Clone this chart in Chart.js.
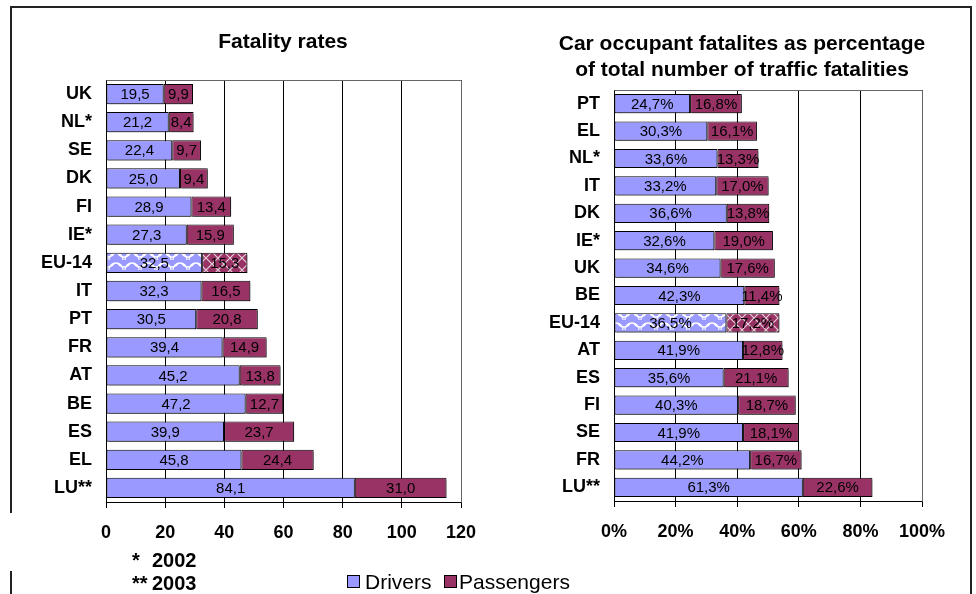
<!DOCTYPE html>
<html>
<head>
<meta charset="utf-8">
<script src="https://cdn.jsdelivr.net/npm/chart.js@4/dist/chart.umd.min.js"></script>
<style>
html,body{margin:0;padding:0;background:#fff;}
#wrap{position:relative;width:976px;height:594px;overflow:hidden;background:#fff;font-family:"Liberation Sans",Arial,sans-serif;color:#000;}
canvas{position:absolute;top:0;}
.ln{position:absolute;background:#222;}
.fn{position:absolute;font-weight:bold;font-size:20px;line-height:22px;white-space:nowrap;}
.lg{position:absolute;top:570px;font-size:21px;line-height:24px;white-space:nowrap;}
.box{position:absolute;width:11px;height:11px;border:1px solid #000;}
</style>
</head>
<body>
<div id="wrap">
  <div class="ln" style="left:10px;top:6px;width:962px;height:2px;"></div>
  <div class="ln" style="left:10px;top:6px;width:2px;height:507px;"></div>
  <div class="ln" style="left:10px;top:571px;width:2px;height:23px;"></div>
  <div class="ln" style="left:970px;top:6px;width:2px;height:588px;"></div>
  <canvas id="c1" width="526" height="594" style="left:20px;"></canvas>
  <canvas id="c2" width="444" height="594" style="left:520px;"></canvas>
  <div id="fm1" class="fn" style="left:132px;top:549px;"></div>
  <div id="fy1" class="fn" style="left:152px;top:549px;"></div>
  <div id="fm2" class="fn" style="left:132px;top:572px;"></div>
  <div id="fy2" class="fn" style="left:152px;top:572px;"></div>
  <div class="box" style="left:347px;top:575px;background:#9999FF;"></div>
  <div id="lg1" class="lg" style="left:365px;"></div>
  <div class="box" style="left:444px;top:575px;background:#993366;"></div>
  <div id="lg2" class="lg" style="left:459px;"></div>
</div>
<script>
// ---- data ----
const fatalCategories = ['UK','NL*','SE','DK','FI','IE*','EU-14','IT','PT','FR','AT','BE','ES','EL','LU**'];
const fatalDrivers    = [19.5,21.2,22.4,25.0,28.9,27.3,32.5,32.3,30.5,39.4,45.2,47.2,39.9,45.8,84.1];
const fatalPassengers = [9.9,8.4,9.7,9.4,13.4,15.9,15.3,16.5,20.8,14.9,13.8,12.7,23.7,24.4,31.0];

const shareCategories = ['PT','EL','NL*','IT','DK','IE*','UK','BE','EU-14','AT','ES','FI','SE','FR','LU**'];
const shareDrivers    = [24.7,30.3,33.6,33.2,36.6,32.6,34.6,42.3,36.5,41.9,35.6,40.3,41.9,44.2,61.3];
const sharePassengers = [16.8,16.1,13.3,17.0,13.8,19.0,17.6,11.4,17.2,12.8,21.1,18.7,18.1,16.7,22.6];

const seriesNames = ['Drivers','Passengers'];
const titleLeft  = ['Fatality rates'];
const titleRight = ['Car occupant fatalites as percentage','of total number of traffic fatalities'];
const footnoteMarks = ['*','**'];
const footnoteYears = ['2002','2003'];
const highlightCategory = 'EU-14';

// ---- text ----
document.getElementById('fm1').textContent = footnoteMarks[0];
document.getElementById('fy1').textContent = footnoteYears[0];
document.getElementById('fm2').textContent = footnoteMarks[1];
document.getElementById('fy2').textContent = footnoteYears[1];
document.getElementById('lg1').textContent = seriesNames[0];
document.getElementById('lg2').textContent = seriesNames[1];

const FONT = '"Liberation Sans", Arial, sans-serif';
const BLUE = '#9999FF', PURPLE = '#993366';

function scallopPattern(){
  const c = document.createElement('canvas'); c.width = 16; c.height = 10;
  const g = c.getContext('2d');
  g.fillStyle = BLUE; g.fillRect(0,0,16,10);
  g.strokeStyle = '#ffffff'; g.lineWidth = 1.3;
  g.beginPath(); g.arc(8,0,7,0.15*Math.PI,0.85*Math.PI); g.stroke();
  g.beginPath(); g.arc(0,10,7,1.5*Math.PI,2.0*Math.PI); g.stroke();
  g.beginPath(); g.arc(16,10,7,1.0*Math.PI,1.5*Math.PI); g.stroke();
  return g.createPattern(c,'repeat');
}
function crossPattern(){
  const c = document.createElement('canvas'); c.width = 12; c.height = 12;
  const g = c.getContext('2d');
  g.fillStyle = PURPLE; g.fillRect(0,0,12,12);
  g.strokeStyle = '#e8d0dc'; g.lineWidth = 1.2;
  g.beginPath(); g.moveTo(0,0); g.lineTo(12,12); g.moveTo(12,0); g.lineTo(0,12); g.stroke();
  return g.createPattern(c,'repeat');
}
const patBlue = scallopPattern();
const patPurple = crossPattern();

const fmt = (v, suffix) => v.toFixed(1).replace('.', ',') + suffix;

function labelPlugin(suffix){
  return {
    id: 'segLabels',
    afterDatasetsDraw(chart){
      const ctx = chart.ctx;
      ctx.save();
      ctx.shadowColor = 'rgba(0,0,0,0)';
      ctx.font = '15px ' + FONT;
      ctx.fillStyle = '#000';
      ctx.textAlign = 'center';
      ctx.textBaseline = 'middle';
      chart.data.datasets.forEach((ds, di) => {
        const meta = chart.getDatasetMeta(di);
        meta.data.forEach((bar, i) => {
          const p = bar.getProps(['x','y','base'], true);
          ctx.fillText(fmt(ds.data[i], suffix), (p.x + p.base) / 2, p.y + 1);
        });
      });
      ctx.restore();
    }
  };
}
function titlePlugin(lines, cx, ys){
  return {
    id: 'fixedTitle',
    afterDraw(chart){
      const ctx = chart.ctx;
      ctx.save();
      ctx.font = 'bold 21px ' + FONT;
      ctx.fillStyle = '#000';
      ctx.textAlign = 'center';
      ctx.textBaseline = 'middle';
      lines.forEach((t, i) => ctx.fillText(t, cx, ys[i]));
      ctx.restore();
    }
  };
}
const framePlugin = {
  id: 'frame',
  beforeDatasetsDraw(chart){
    const a = chart.chartArea, ctx = chart.ctx;
    ctx.save();
    ctx.strokeStyle = '#666'; ctx.lineWidth = 1;
    ctx.beginPath();
    ctx.moveTo(Math.round(a.left)+0.5, Math.round(a.top)+0.5);
    ctx.lineTo(Math.round(a.right)+0.5, Math.round(a.top)+0.5);
    ctx.lineTo(Math.round(a.right)+0.5, Math.round(a.bottom)+0.5);
    ctx.stroke();
    ctx.restore();
    ctx.save();
    ctx.shadowColor = 'rgba(0,0,0,0.35)';
    ctx.shadowOffsetX = 2; ctx.shadowOffsetY = 2; ctx.shadowBlur = 0;
  },
  afterDatasetsDraw(chart){ chart.ctx.restore(); }
};

function makeChart(id, cats, drv, pas, cfg){
  const ds = (name, data, color, pat) => ({
    label: name, data: data,
    backgroundColor: cats.map(c => c === highlightCategory ? pat : color),
    borderColor: '#000', borderWidth: 1, borderSkipped: false,
    barPercentage: cfg.barPct, categoryPercentage: 1
  });
  return new Chart(document.getElementById(id), {
    type: 'bar',
    data: { labels: cats, datasets: [ ds(seriesNames[0], drv, BLUE, patBlue), ds(seriesNames[1], pas, PURPLE, patPurple) ] },
    options: {
      indexAxis: 'y', responsive: false, animation: false, devicePixelRatio: 1,
      layout: { padding: { left: 0, right: cfg.padRight, top: cfg.padTop, bottom: 0 } },
      plugins: { legend: { display: false }, tooltip: { enabled: false }, title: { display: false } },
      scales: {
        x: { stacked: true, min: 0, max: cfg.max,
          ticks: { stepSize: 20, color: '#000', padding: 14, font: { family: FONT, size: 18, weight: 'bold' },
                   callback: v => v + cfg.tickSuffix },
          grid: { color: '#000', tickLength: 6, lineWidth: 1 },
          border: { color: '#000' },
          afterFit: s => { s.height = cfg.axisH; } },
        y: { stacked: true,
          grid: { display: false, drawTicks: false },
          border: { display: true, color: '#000' },
          ticks: { color: '#000', padding: 14, font: { family: FONT, size: 18, weight: 'bold' } },
          afterFit: s => { s.width = cfg.yW; } }
      }
    },
    plugins: [framePlugin, labelPlugin(cfg.labelSuffix), titlePlugin(cfg.title, cfg.titleX, cfg.titleY)]
  });
}

makeChart('c1', fatalCategories, fatalDrivers, fatalPassengers, {
  title: titleLeft, titleX: 263, titleY: [42],
  max: 120, tickSuffix: '', labelSuffix: '', padRight: 85, padTop: 80, yW: 86, axisH: 92, barPct: 0.72
});
makeChart('c2', shareCategories, shareDrivers, sharePassengers, {
  title: titleRight, titleX: 222, titleY: [44, 70],
  max: 100, tickSuffix: '%', labelSuffix: '%', padRight: 42, padTop: 90, yW: 94, axisH: 93, barPct: 0.70
});
</script>
</body>
</html>
